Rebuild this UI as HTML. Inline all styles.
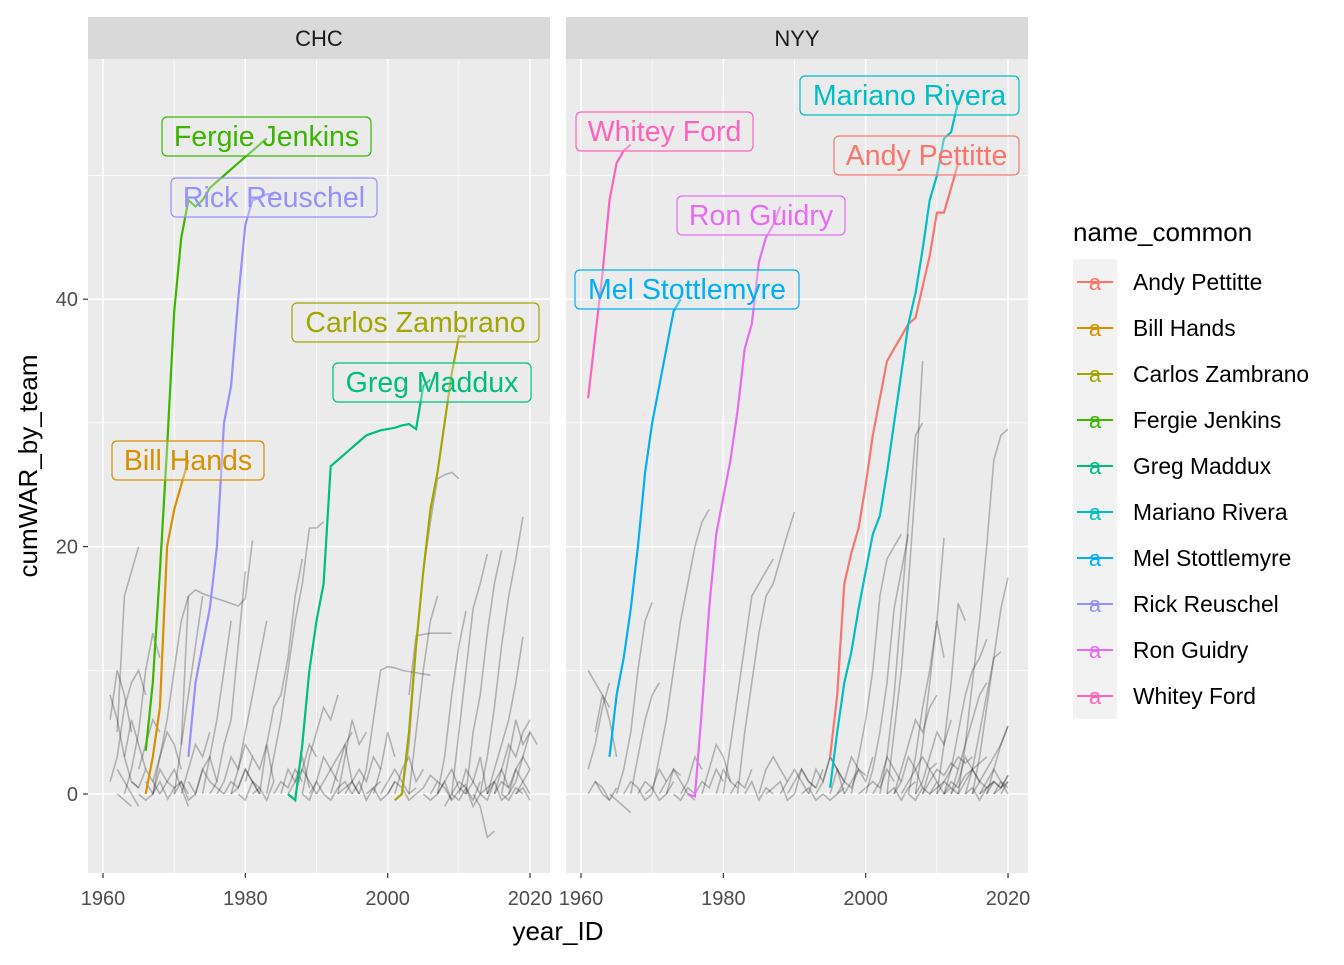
<!DOCTYPE html>
<html><head><meta charset="utf-8"><style>
body{margin:0;background:#fff;}
svg text{font-family:"Liberation Sans",Arial,sans-serif;}
</style></head><body>
<svg id="chart" width="1344" height="960" viewBox="0 0 1344 960"></svg>
<script>
const names = ["Andy Pettitte","Bill Hands","Carlos Zambrano","Fergie Jenkins","Greg Maddux","Mariano Rivera","Mel Stottlemyre","Rick Reuschel","Ron Guidry","Whitey Ford"];
const colors = ["#F8766D","#D89000","#A3A500","#39B600","#00BF7D","#00BFC4","#00B0F6","#9590FF","#E76BF3","#FF62BC"];
const xTicks = [1960,1980,2000,2020];
const yTicks = [0,20,40];
const chcHands = [1966,[0,3,7,20,23,25,27]];
const chcJenkins = [1966,[3.5,9,18,28,39,45,48,47.5,48,49,49.5,50,50.5,51,51.5,52,52.5,53]];
const chcReuschel = [1972,[3,9,12,15,20,30,33,40,46,48,48.2,48.5,48.4]];
const chcMaddux = [1986,[0,-0.5,4,10,14,17,26.5,27,27.5,28,28.5,29,29.2,29.4,29.5,29.6,29.8,29.9,29.5,33,33.5]];
const chcZambrano = [2001,[-0.5,0,5,12,18,23,26,30,34,37,37]];
const nyyFord = [1961,[32,37,42,48,51,52,52.5]];
const nyyStottlemyre = [1964,[3,8,11,15,20,26,30,33,36,39,40]];
const nyyGuidry = [1975,[0,-0.2,7,15,21,24,27,31,36,38,43,45,46,47.5]];
const nyyPettitte = [1995,[3,8,17,19.5,21.5,25,29,32,35,36,37,38,38.5,41,43.5,47,47,49,51]];
const nyyRivera = [1995,[0.5,5,9,11.5,15,18,21,22.5,26,30,34,38,40.5,44,48,50,53,53.5,56]];
const chcOthers = [
 [1961,[8,6,3,1,0.5]],[1962,[5,16,18,20]],[1961,[1,3,7,9,10,8]],[1962,[0,-0.5,-1]],[1963,[0,2,5,10,13,11]],
 [1964,[1,0.5,2,1,0]],[1965,[0,-0.5,0,1,-0.3]],[1961,[6,10,8,5]],[1963,[3,6,4,2]],
 [1971,[4,16,16.5,16.2,16,15.8,15.6,15.4,15.2,15.8,20.5]],[1967,[0,3,6,10,14,16]],[1970,[0,4,8,12,16]],
 [1968,[0,1,2,0.5,-1]],[1972,[1,0,2,3,1]],[1974,[0,3,6,10,14]],[1975,[0,1,4,6,12,18]],[1978,[0,2,5,8,11,14]],
 [1977,[0,1,0.5,2,1,0]],[1980,[1,3,2,4,1]],[1982,[0,4,7,8,11,16,19]],[1983,[0,3,6,10,14,17,21.5,21.5,22]],
 [1985,[0,2,1,3,0.5]],[1988,[0,3,5,7,6,8]],[1990,[0,1,2,3,4,5]],[1992,[0,2,4,1,0]],[1993,[0,3,6,4,5]],
 [1996,[0,2,6,10,10.3,10.2,10,9.9,9.8,9.7,9.6]],[1995,[0,1,-0.5,0.5,1]],[1999,[0,1,2,1,0,0.5]],
 [2002,[0,4,12,18,22,25.5,25.8,26,25.5]],[2003,[8,12.8,12.9,13,13,13,13]],[2003,[0,5,10,14,16]],
 [2006,[0,1,0.5,-0.5,0.3,0.8]],[2008,[-1,0,1,0.5,-0.5,1]],[2007,[0,3,8,12,14.8]],[2009,[0,5,10,15,17,19.4]],
 [2010,[0,2,1,3,0]],[2011,[0,5,8,13,17,19.7]],[2013,[0,3,7,12,16,19,22.4]],[2014,[0,2,4,6,9,12.7]],
 [2015,[0,1,0.5,2,1,0]],[2012,[0,-1,-3.5,-3]],[2016,[0,3,6,4,5]],[2017,[0,1,3,2]],[2018,[0,1,2]],
 [1986,[0,1,2,4,3]],[1981,[0,0.5,-0.5,1]],[1969,[-0.5,0.5,1,0]],[1998,[0,2,5,3]],[2004,[0,0.5,1.5,1]],
 [1962,[2,1,0,-1]],[1966,[1,0,2,1,0.5]],[1970,[0,1,-0.5,0]],[1973,[0,2,1,0.5,0]],[1976,[0,1,3,2,4,3]],
 [1979,[0,-0.5,1,0.5]],[1984,[0,1,0.5,2,1]],[1987,[0,2,1,0]],[1989,[0,1,3,2,1]],[1991,[0,-0.5,0.5,1,0]],
 [1994,[0,1,2,1,3,2]],[1997,[0,0.5,-0.5,0,1]],[2000,[0,1,0.5,-0.5,0]],[2001,[0,2,3,1,2]],[2005,[0,-0.5,0,1,-0.5]],
 [2007,[0,1,2,0.5,0]],[2009,[0,-0.5,0.5,-1,0]],[2011,[0,1,0,-0.5,1]],[2013,[0,0.5,1,-0.5,0]],[2015,[0,2,4,3,5,6]],
 [2016,[0,-0.5,0.5,0]],[2017,[0,2,3,5,4]],[2018,[0,0.5,-0.5]],[2014,[0,1,2,0.5]],[1965,[2,4,6,5]],
 [1967,[1,3,5,4,2]],[1971,[0,2,4,3,5]],[1978,[0,0.5,2,1,0]],[1988,[0,-0.5,1,0]],[1993,[0,0.5,1,0]]
];
const nyyOthers = [
 [1961,[10,9,8,7]],[1961,[2,4,7,9]],[1961,[0,1,0.5,-0.5]],[1962,[5,8,6,3]],[1964,[0,-0.5,-1,-1.5]],
 [1965,[0,2,5,10,14,15.5]],[1967,[0,3,6,8,9]],[1968,[0,1,0.5,2,1]],[1970,[0,3,6,10,14,17,20,22,23]],
 [1972,[0,2,1,0,-0.5]],[1974,[0,1,3,2]],[1977,[0,2,4,3,1]],[1980,[0,4,8,12,16,17,18,19]],
 [1981,[0,1,0.5,2]],[1982,[0,5,9,13,16,17,19,21,22.8]],[1985,[0,2,3,2,1]],[1988,[0,1,2,1,0]],
 [1990,[0,2,1,0.5,2]],[1993,[0,1,3,2,0]],[1998,[0,3,6,10,16,19,20,21]],[1997,[0,1,2,1,3]],
 [2000,[0,2,5,9,15,18,21]],[2002,[0,3,8,15,22,29,30]],[2003,[0,5,10,17,25,35]],[2004,[0,1,3,2,0.5]],
 [2006,[0,3,7,10,14,11]],[2007,[0,4,9,14,20.7]],[2008,[0,2,1,0,0.5]],[2010,[0,4,9,15.4,14]],
 [2011,[0,2,5,8,10,11,12.5]],[2012,[0,1,3,2,1,0.5]],[2013,[0,4,9,14,20,27,29,29.5]],
 [2015,[0,3,7,11,15,17.5]],[2014,[0,2,5,8,11,11.5]],[2016,[0,1,2,1,0]],[2017,[0,2,4,5.5]],[2018,[0,1,0.5]],
 [1962,[1,0,-0.5,0.5]],[1966,[0,1,0.5,-0.5,0]],[1969,[0,0.5,-0.5,0,1]],[1971,[0,1,2,1.5]],[1973,[0,-0.5,0.5,0]],
 [1976,[0,1,0.5,2,1]],[1979,[0,2,1,0.5]],[1983,[0,1,-0.5,0.5,0]],[1986,[0,0.5,1,-0.5,0]],[1989,[0,1,2,1,0.5]],
 [1991,[0,0.5,-0.5,0]],[1992,[0,2,1,3,2,1]],[1994,[0,-0.5,0,0.5]],[1996,[0,1,0.5,2,1.5]],[1999,[0,0.5,1,0.5,2,1]],
 [2001,[0,1,3,2,1]],[2003,[0,0.5,-0.5,0.5,1]],[2005,[0,1,2,3,2,2.5]],[2006,[0,-0.5,0.5,0,1]],[2008,[0,1,2,1.5,2.5,2]],
 [2009,[0,0.5,1,0.5,0]],[2011,[0,1,0.5,1.5,2,1]],[2012,[0,2,4,6,8,9]],[2014,[0,0.5,-0.5,0.5,1]],[2015,[0,1,2,3,4,5.5]],
 [2016,[0,0.5,1,0.5,1.5]],[2017,[0,1,0.5,1.5]],[2018,[0,0.5,1]],[2013,[0,1,2,2.5,3]],[2010,[0,1,2,3,2.5,3]],
 [2004,[0,2,4,6,5,7,8]],[2007,[0,1,3,5,4,6]],[1995,[0,2,1,3,2]],[2019,[0,1]]
];

const NS="http://www.w3.org/2000/svg";
const svg=document.getElementById('chart');
function mk(tag,attrs,parent){const e=document.createElementNS(NS,tag);for(const k in attrs)e.setAttribute(k,attrs[k]);(parent||svg).appendChild(e);return e;}
const PY0=59,PY1=873;
function sy(v){return 794-v*12.37;}
const panels=[{x0:88,x1:550,base:103,label:"CHC"},{x0:566,x1:1028,base:581,label:"NYY"}];
function sx(p,yr){return p.base+(yr-1960)*7.117;}
function pathOf(p,s){return s[1].map((v,i)=>(i?'L':'M')+sx(p,s[0]+i).toFixed(1)+','+sy(v).toFixed(1)).join('');}

panels.forEach((p,pi)=>{
  const g=mk('g',{});
  
  
  const bg=mk('rect',{x:p.x0,y:PY0,width:p.x1-p.x0,height:PY1-PY0,fill:'#EBEBEB'},g);
  
  
  [10,30,50].forEach(v=>mk('line',{x1:p.x0,x2:p.x1,y1:sy(v),y2:sy(v),stroke:'#fff','stroke-width':0.7},g));
  [1970,1990,2010].forEach(v=>mk('line',{x1:sx(p,v),x2:sx(p,v),y1:PY0,y2:PY1,stroke:'#fff','stroke-width':0.7},g));
  yTicks.forEach(v=>mk('line',{x1:p.x0,x2:p.x1,y1:sy(v),y2:sy(v),stroke:'#fff','stroke-width':1.5},g));
  xTicks.forEach(v=>mk('line',{x1:sx(p,v),x2:sx(p,v),y1:PY0,y2:PY1,stroke:'#fff','stroke-width':1.5},g));
  const st=mk('rect',{x:p.x0,y:17,width:p.x1-p.x0,height:42,fill:'#D9D9D9'},g);
  
  
  const stt=mk('text',{x:(p.x0+p.x1)/2,y:46,'text-anchor':'middle','font-size':22,fill:'#1A1A1A'},g);
  stt.textContent=p.label;
  
  
  xTicks.forEach(v=>{
    mk('line',{x1:sx(p,v),x2:sx(p,v),y1:PY1,y2:PY1+5,stroke:'#333','stroke-width':1.2},g);
    const t=mk('text',{x:sx(p,v),y:905,'text-anchor':'middle','font-size':20,fill:'#4D4D4D'},g);
    t.textContent=v;
    
    
  });
  const others=pi===0?chcOthers:nyyOthers;
  others.forEach(s=>{
    const l=mk('path',{d:pathOf(p,s),fill:'none',stroke:'rgba(0,0,0,0.25)','stroke-width':1.6},g);
    
    
  });
});
yTicks.forEach(v=>{
  mk('line',{x1:83,x2:88,y1:sy(v),y2:sy(v),stroke:'#333','stroke-width':1.2});
  const t=mk('text',{x:78,y:sy(v)+7,'text-anchor':'end','font-size':20,fill:'#4D4D4D'});
  t.textContent=v;
  
  
});
const hl=[[0,1,chcHands],[0,3,chcJenkins],[0,7,chcReuschel],[0,4,chcMaddux],[0,2,chcZambrano],
 [1,9,nyyFord],[1,6,nyyStottlemyre],[1,8,nyyGuidry],[1,0,nyyPettitte],[1,5,nyyRivera]];
hl.forEach(h=>{
  const l=mk('path',{d:pathOf(panels[h[0]],h[2]),fill:'none',stroke:colors[h[1]],'stroke-width':2.2});
  
  
});
const labels=[[3,162,117,209],[7,171,178,206],[2,292,303,247],[4,333,363,198],[1,112,441,152],
 [9,576,112,177],[5,800,76,219],[0,834,136,185],[8,677,196,168],[6,575,270,224]];
labels.forEach(L=>{
  const g=mk('g',{});
  
  
  mk('rect',{x:L[1],y:L[2],width:L[3],height:39,rx:5,fill:'rgba(235,235,235,0.35)',stroke:colors[L[0]],'stroke-width':1.2},g);
  const t=mk('text',{x:L[1]+L[3]/2,y:L[2]+29,'text-anchor':'middle','font-size':28.5,fill:colors[L[0]]},g);
  t.textContent=names[L[0]];
});
const xt=mk('text',{x:558,y:940,'text-anchor':'middle','font-size':26,fill:'#000'});
xt.textContent='year_ID';


const yt=mk('text',{x:0,y:0,'text-anchor':'middle','font-size':26,fill:'#000',transform:'translate(37,466) rotate(-90)'});
yt.textContent='cumWAR_by_team';


const lt=mk('text',{x:1073,y:241,'font-size':26,fill:'#000'});
lt.textContent='name_common';


names.forEach((n,i)=>{
  const y=259+i*46;
  const g=mk('g',{});
  
  
  mk('rect',{x:1073,y:y,width:44,height:46,fill:'#F2F2F2'},g);
  mk('line',{x1:1077,x2:1113,y1:y+23,y2:y+23,stroke:colors[i],'stroke-width':2},g);
  const a=mk('text',{x:1095,y:y+31,'text-anchor':'middle','font-size':22,fill:colors[i]},g);
  a.textContent='a';
  const t=mk('text',{x:1133,y:y+31,'font-size':22.8,fill:'#000'},g);
  t.textContent=n;
});
</script>
</body></html>
